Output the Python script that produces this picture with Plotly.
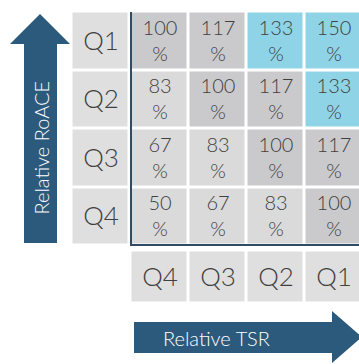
import plotly.graph_objects as go

# ---- data ----
row_labels = ["Q1", "Q2", "Q3", "Q4"]          # Relative RoACE quartiles (top to bottom)
col_labels = ["Q4", "Q3", "Q2", "Q1"]          # Relative TSR quartiles (left to right)
row_q1 = [100, 117, 133, 150]
row_q2 = [83, 100, 117, 133]
row_q3 = [67, 83, 100, 117]
row_q4 = [50, 67, 83, 100]
y_title = "Relative RoACE"
x_title = "Relative TSR"

values = [row_q1, row_q2, row_q3, row_q4]

# ---- layout constants (pixel-like data coordinates) ----
W, H = 359, 364
ARROW = "#2c5a7c"
TXT = "#404040"
LIGHT = "#dadadb"
DARK = "#cacacd"
CYAN = "#8fd4e6"
LABEL = "#dfdfdf"
FONT = "Lato"

x0, pitch_x = 130.5, 58.0
y0, pitch_y = 11.5, 58.5
x_edges = [x0 + i * pitch_x for i in range(len(col_labels) + 1)]
y_edges = [y0 + i * pitch_y for i in range(len(row_labels) + 1)]

text = [[f"{v}<br>%" for v in r] for r in values]

fig = go.Figure()

# data cells
fig.add_trace(go.Heatmap(
    z=values, x=x_edges, y=y_edges,
    text=text, texttemplate="%{text}",
    textfont=dict(family=FONT, size=20, color=TXT, weight=300),
    zmin=50, zmax=150,
    colorscale=[[0, LIGHT], [0.42, LIGHT], [0.42, DARK], [0.75, DARK],
                [0.75, CYAN], [1, CYAN]],
    xgap=3, ygap=3, showscale=False, hoverinfo="skip",
))

# row label cells
fig.add_trace(go.Heatmap(
    z=[[1] for _ in row_labels], x=[71.5, 129.5], y=y_edges,
    text=[[r] for r in row_labels], texttemplate="%{text}",
    textfont=dict(family=FONT, size=26, color=TXT, weight=300),
    colorscale=[[0, LABEL], [1, LABEL]],
    xgap=3, ygap=3, showscale=False, hoverinfo="skip",
))

# column label cells
fig.add_trace(go.Heatmap(
    z=[[1] * len(col_labels)], x=x_edges, y=[250.5, 303.5],
    text=[col_labels], texttemplate="%{text}",
    textfont=dict(family=FONT, size=26, color=TXT, weight=300),
    colorscale=[[0, LABEL], [1, LABEL]],
    xgap=3, ygap=3, showscale=False, hoverinfo="skip",
))

shapes = [
    # frame lines
    dict(type="line", x0=131, x1=131, y0=12, y1=245.5,
         line=dict(color="#2f4c66", width=2)),
    dict(type="line", x0=130, x1=W + 2, y0=245, y1=245,
         line=dict(color="#2f4c66", width=2)),
    # up arrow
    dict(type="path", path="M 24 243 L 24 44 L 10 44 L 40 14 L 70 44 L 57 44 L 57 243 Z",
         fillcolor=ARROW, line=dict(width=0)),
    # right arrow
    dict(type="path", path="M 134 322 L 332 322 L 332 311 L 362 337 L 332 363 L 332 353 L 134 353 Z",
         fillcolor=ARROW, line=dict(width=0)),
]

annotations = [
    dict(x=40.5, y=148, text=y_title, textangle=-90, showarrow=False,
         font=dict(family=FONT, size=20, color="white", weight=300), xref="x", yref="y"),
    dict(x=216, y=337.5, text=x_title, showarrow=False,
         font=dict(family=FONT, size=20, color="white", weight=300), xref="x", yref="y"),
]

fig.update_layout(
    width=W, height=H,
    margin=dict(l=0, r=0, t=0, b=0),
    paper_bgcolor="white", plot_bgcolor="white",
    xaxis=dict(range=[0, W], visible=False, fixedrange=True),
    yaxis=dict(range=[H, 0], visible=False, fixedrange=True),
    shapes=shapes, annotations=annotations,
    showlegend=False,
)

fig.write_html("out.html", config={"displayModeBar": False},
               post_script="document.body.style.margin='0';document.body.style.overflow='hidden';")
